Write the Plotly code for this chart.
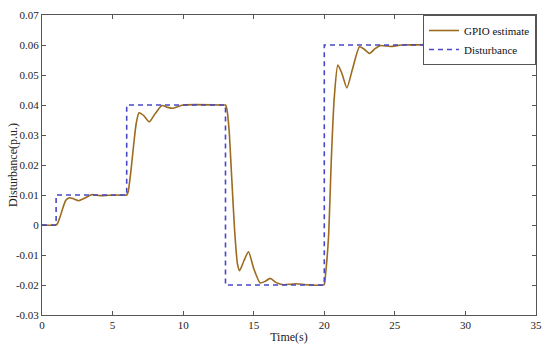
import plotly.graph_objects as go

# Disturbance steps (time, value) drawn with step shape
dist_t = [0, 1, 6, 13, 20, 35]
dist_v = [0, 0.01, 0.04, -0.02, 0.06, 0.06]

# GPIO estimate samples
gpio_t = [0, 1.0, 1.1, 1.3, 1.5, 1.7, 1.95, 2.25, 2.6, 3.0, 3.5, 4.1, 4.7, 5.3, 6.0,
          6.1, 6.3, 6.5, 6.68, 6.88, 7.2, 7.6, 8.0, 8.5, 8.9, 9.3, 10.0, 12.9, 13.0,
          13.1, 13.25, 13.45, 13.65, 13.85, 14.0, 14.3, 14.63, 15.0, 15.45, 15.8, 16.17,
          16.6, 17.1, 18.0, 19.0, 19.9, 20.0,
          20.1, 20.3, 20.5, 20.7, 20.96, 21.25, 21.6, 22.0, 22.5, 22.85, 23.2, 23.6,
          23.96, 24.7, 25.5, 35]
gpio_v = [0, 0, 0.0005, 0.003, 0.006, 0.0083, 0.0091, 0.0087, 0.0081, 0.0089, 0.0101,
          0.0098, 0.0099, 0.01, 0.01,
          0.011, 0.018, 0.027, 0.034, 0.0374, 0.0365, 0.0344, 0.037, 0.0398, 0.0392,
          0.0389, 0.04, 0.04, 0.04,
          0.0385, 0.032, 0.015, -0.002, -0.013, -0.0152, -0.012, -0.0089, -0.0145,
          -0.0193, -0.0188, -0.0178, -0.0192, -0.0199, -0.0196, -0.02, -0.02, -0.0198,
          -0.016, -0.004, 0.022, 0.042, 0.0533, 0.0505, 0.0457, 0.052, 0.0594, 0.0585,
          0.0572, 0.0588, 0.0598, 0.0595, 0.06, 0.06]

x_ticks = [0, 5, 10, 15, 20, 25, 30, 35]
y_ticks = [-0.03, -0.02, -0.01, 0, 0.01, 0.02, 0.03, 0.04, 0.05, 0.06, 0.07]
y_labels = ["-0.03", "-0.02", "-0.01", "0", "0.01", "0.02", "0.03", "0.04", "0.05", "0.06", "0.07"]

SERIF = "Liberation Serif"

fig = go.Figure()
fig.add_trace(go.Scatter(x=gpio_t, y=gpio_v, mode="lines", name="GPIO estimate",
                         line=dict(color="#9C6B1E", width=1.6, shape="spline", smoothing=0.6)))
fig.add_trace(go.Scatter(x=dist_t, y=dist_v, mode="lines", name="Disturbance",
                         line=dict(color="#4848C4", width=1.6, dash="5px,4px", shape="hv")))

axis_common = dict(showline=True, linecolor="#555555", linewidth=1, mirror="ticks",
                   ticks="inside", ticklen=4, tickcolor="#555555", showgrid=False,
                   zeroline=False, automargin=False,
                   tickfont=dict(family=SERIF, size=11, color="#222222"))

fig.update_xaxes(range=[0, 35], tickvals=x_ticks,
                 title=dict(text="Time(s)", font=dict(family=SERIF, size=12, color="#222222"), standoff=2),
                 **axis_common)
fig.update_yaxes(range=[-0.03, 0.07], tickvals=y_ticks, ticktext=y_labels, **axis_common)

fig.add_annotation(text="Disturbance(p.u.)", xref="paper", yref="paper",
                   x=-29 / 494, y=0.5, xanchor="center", yanchor="middle",
                   textangle=-90, showarrow=False,
                   font=dict(family=SERIF, size=12, color="#222222"))

fig.update_layout(
    width=550, height=350,
    margin=dict(l=42, r=14, t=15, b=35),
    paper_bgcolor="white", plot_bgcolor="white",
    showlegend=True,
    legend=dict(x=1, y=1, xanchor="right", yanchor="top", bgcolor="white",
                bordercolor="#555555", borderwidth=1, itemwidth=30,
                font=dict(family=SERIF, size=11, color="#111111"),
                tracegroupgap=0),
)

fig.write_html("out.html", config={"displayModeBar": False})

# remove the default page margin so the figure sits at the window's corner
with open("out.html", "r", encoding="utf-8") as f:
    html = f.read()
html = html.replace("<body>", '<body style="margin:0;overflow:hidden">', 1)
with open("out.html", "w", encoding="utf-8") as f:
    f.write(html)
